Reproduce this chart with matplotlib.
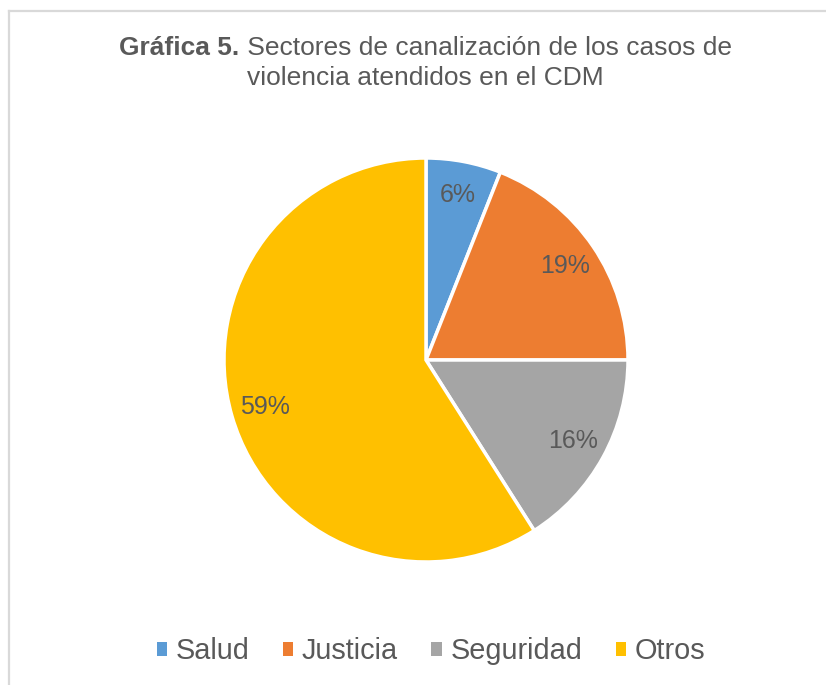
import matplotlib
matplotlib.use("Agg")
import matplotlib.pyplot as plt
from matplotlib.patches import Patch
from matplotlib.lines import Line2D

categories = ["Salud", "Justicia", "Seguridad", "Otros"]
values = [6, 19, 16, 59]
colors = ["#5B9BD5", "#ED7D31", "#A5A5A5", "#FFC000"]
title_bold = "Gráfica 5."
title_rest1 = " Sectores de canalización de los casos de"
title_line2 = "violencia atendidos en el CDM"

plt.rcParams['font.family'] = ['Liberation Sans', 'DejaVu Sans']
TXT = "#595959"

W, H = 826, 685
fig = plt.figure(figsize=(W / 100, H / 100), dpi=100)

# border (left and top)
fig.add_artist(Line2D([8.5 / W, 8.5 / W], [0, 1 - 10.5 / H], color="#D9D9D9", lw=1.6, transform=fig.transFigure))
fig.add_artist(Line2D([8.5 / W, 1], [1 - 10.5 / H, 1 - 10.5 / H], color="#D9D9D9", lw=1.6, transform=fig.transFigure))

cx, cy, r = 426, 360, 202
ax = fig.add_axes([(cx - r) / W, (H - cy - r) / H, 2 * r / W, 2 * r / H])
wedges, texts, autotexts = ax.pie(
    values, colors=colors, startangle=90, counterclock=False,
    autopct=lambda p: f"{p:.0f}%", pctdistance=0.83,
    wedgeprops=dict(edgecolor="white", linewidth=2.5),
    textprops=dict(color=TXT, fontsize=18))
ax.set_xlim(-1, 1)
ax.set_ylim(-1, 1)
ax.set_aspect("equal")
ax.axis("off")

# title with mixed weight
fs_title = 19
renderer = fig.canvas.get_renderer()
tb = fig.text(0, 0, title_bold, fontsize=fs_title, fontweight="bold", color=TXT)
tr = fig.text(0, 0, title_rest1, fontsize=fs_title, color=TXT)
wb = tb.get_window_extent(renderer).width
wr = tr.get_window_extent(renderer).width
x0 = 425.5 - (wb + wr) / 2
y1 = 1 - 48 / H
tb.set_position((x0 / W, y1)); tb.set_va("center")
tr.set_position(((x0 + wb) / W, y1)); tr.set_va("center")
fig.text(425 / W, 1 - 78 / H, title_line2, fontsize=fs_title, color=TXT, ha="center", va="center")

handles = [Patch(facecolor=c, edgecolor="none") for c in colors]
leg = fig.legend(handles, categories, loc="center", bbox_to_anchor=(431 / W, 1 - 651 / H),
                 ncol=4, frameon=False, fontsize=20.8, handlelength=0.36, handleheight=0.36,
                 handletextpad=0.3, columnspacing=1.15, labelcolor=TXT)

fig.savefig("out.png", dpi=100)
